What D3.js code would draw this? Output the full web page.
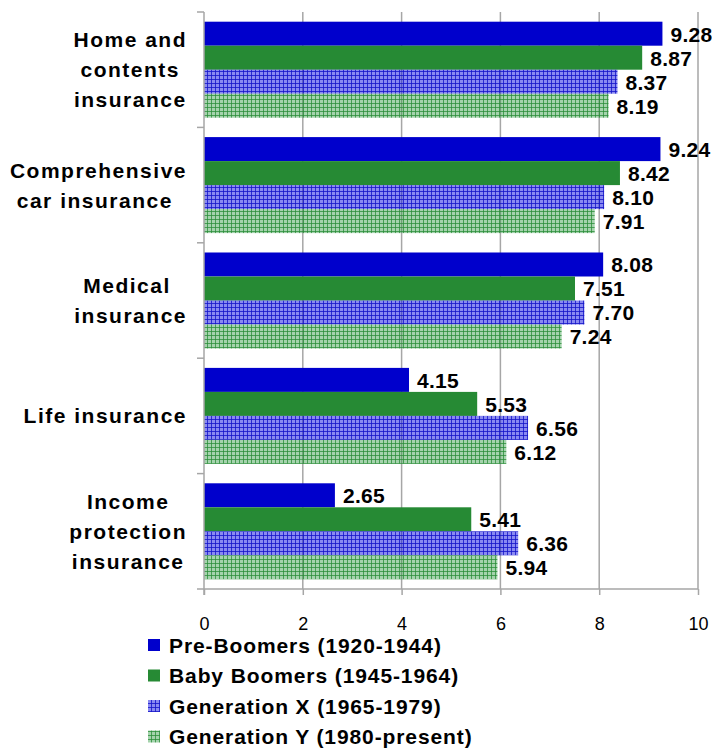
<!DOCTYPE html>
<html>
<head>
<meta charset="utf-8">
<script src="https://cdn.jsdelivr.net/npm/d3@7"></script>
<style>
  body { margin: 0; background: #fff; }
  svg text { font-family: "Liberation Sans", Arial, sans-serif; white-space: pre; }
</style>
</head>
<body>
<script>
'use strict';

// chart data
const categories = ["Home and contents insurance", "Comprehensive car insurance", "Medical insurance", "Life insurance", "Income protection insurance"];
// wrapped category labels as shown on the axis
const categoryLines = [
  ["Home and", "contents", "insurance"],
  ["Comprehensive", "car insurance "],
  ["Medical ", "insurance"],
  ["Life insurance"],
  ["Income", "protection", "insurance"]
];
const seriesNames = ["Pre-Boomers (1920-1944)", "Baby Boomers (1945-1964)", "Generation X (1965-1979)", "Generation Y (1980-present)"];
const preBoomers = [9.28, 9.24, 8.08, 4.15, 2.65];
const babyBoomers = [8.87, 8.42, 7.51, 5.53, 5.41];
const genX = [8.37, 8.10, 7.70, 6.56, 6.36];
const genY = [8.19, 7.91, 7.24, 6.12, 5.94];
const xTicks = [0, 2, 4, 6, 8, 10];

const seriesValues = [preBoomers, babyBoomers, genX, genY];
const fills = ["#0000cc", "#268a34", "url(#patX)", "url(#patY)"];

const width = 712, height = 751;
const svg = d3.select('body').append('svg')
  .attr('width', width)
  .attr('height', height);

// hatched fills for Gen X / Gen Y
const defs = svg.append('defs');
function makePattern(id, bg, line) {
  let p = defs.append('pattern')
    .attr('id', id)
    .attr('patternUnits', 'userSpaceOnUse')
    .attr('width', 4).attr('height', 4);
  p.append('rect').attr('width', 4).attr('height', 4).attr('fill', bg);
  p.append('rect').attr('x', 3).attr('width', 1).attr('height', 4).attr('fill', line);
  p.append('rect').attr('y', 3).attr('width', 4).attr('height', 1).attr('fill', line);
}
makePattern('patX', 'rgba(0,0,225,0.46)', 'rgba(20,20,200,0.8)');
makePattern('patY', 'rgba(40,150,60,0.42)', 'rgba(40,140,55,0.75)');

const plotLeft = 204, plotRight = 698, plotTop = 12, plotBottom = 589;

const x = d3.scaleLinear().domain([0, 10]).range([plotLeft, plotRight]);
const y = d3.scaleBand().domain(categories).range([plotTop, plotBottom]);
const inner = d3.scaleBand().domain(d3.range(4))
  .range([y.bandwidth() * 0.084, y.bandwidth() * 0.916]);

// vertical gridlines
svg.append('g')
  .selectAll('line')
  .data(xTicks.slice(1))
  .enter().append('line')
    .attr('x1', (d) => x(d)).attr('x2', (d) => x(d))
    .attr('y1', plotTop).attr('y2', plotBottom)
    .attr('stroke', '#a6a6a6')
    .attr('stroke-width', 1.5);

// bars
const rows = [];
seriesValues.forEach((vals, s) => {
  vals.forEach((v, i) => rows.push({ cat: categories[i], s: s, v: v }));
});

svg.append('g')
  .selectAll('rect')
  .data(rows)
  .enter().append('rect')
    .attr('x', x(0))
    .attr('y', (d) => y(d.cat) + inner(d.s))
    .attr('width', (d) => x(d.v) - x(0))
    .attr('height', inner.bandwidth())
    .attr('fill', (d) => fills[d.s]);

// value labels
svg.append('g')
  .selectAll('text')
  .data(rows)
  .enter().append('text')
    .attr('x', (d) => x(d.v) + 8)
    .attr('y', (d) => y(d.cat) + inner(d.s) + inner.bandwidth() / 2)
    .attr('dy', '0.38em')
    .style('font-size', '21px')
    .style('font-weight', 'bold')
    .style('letter-spacing', '0.3px')
    .text((d) => d.v.toFixed(2));

// x axis
const xAxis = d3.axisBottom(x).tickValues(xTicks).tickSize(6).tickPadding(22).tickFormat(d3.format('d'));
const gx = svg.append('g')
  .attr('transform', `translate(0, ${plotBottom})`)
  .call(xAxis);
gx.select('.domain').attr('stroke', '#a6a6a6').attr('stroke-width', 1.5)
  .attr('d', `M${plotLeft - 7},0H${plotRight}`);
gx.selectAll('.tick line').attr('stroke', '#a6a6a6').attr('stroke-width', 1.5);
gx.selectAll('.tick text')
  .style('font-size', '18px')
  .style('font-family', '"Liberation Sans", Arial, sans-serif')
  .attr('fill', '#000');

// y axis line with category separator ticks
svg.append('line')
  .attr('x1', plotLeft).attr('x2', plotLeft)
  .attr('y1', plotTop).attr('y2', plotBottom + 6)
  .attr('stroke', '#a6a6a6').attr('stroke-width', 1.5);
svg.append('g')
  .selectAll('line')
  .data(categories)
  .enter().append('line')
    .attr('x1', plotLeft - 7).attr('x2', plotLeft)
    .attr('y1', (d) => y(d)).attr('y2', (d) => y(d))
    .attr('stroke', '#a6a6a6').attr('stroke-width', 1.5);

// category labels: lines centred in a block whose right edge sits at 187
const catG = svg.append('g');
categoryLines.forEach((lines, i) => {
  let cy = y(categories[i]) + y.bandwidth() / 2;
  let g = catG.append('g');
  let texts = lines.map((line, j) => g.append('text')
    .attr('y', cy + (j - (lines.length - 1) / 2) * 30)
    .attr('dy', '0.36em')
    .attr('text-anchor', 'middle')
    .style('font-size', '21px')
    .style('font-weight', 'bold')
    .style('letter-spacing', '1.5px')
    .text(line));
  let maxW = d3.max(texts, (t) => t.node().getComputedTextLength());
  texts.forEach((t) => t.attr('x', 187 - maxW / 2));
});

// legend
const legend = svg.append('g');
seriesNames.forEach((name, i) => {
  let ly = 645 + i * 30.5;
  legend.append('rect')
    .attr('x', 148).attr('y', ly - 6)
    .attr('width', 12).attr('height', 12)
    .attr('fill', fills[i]);
  legend.append('text')
    .attr('x', 169).attr('y', ly)
    .attr('dy', '0.36em')
    .style('font-size', '21px')
    .style('font-weight', 'bold')
    .style('letter-spacing', '0.9px')
    .text(name);
});
</script>
</body>
</html>
